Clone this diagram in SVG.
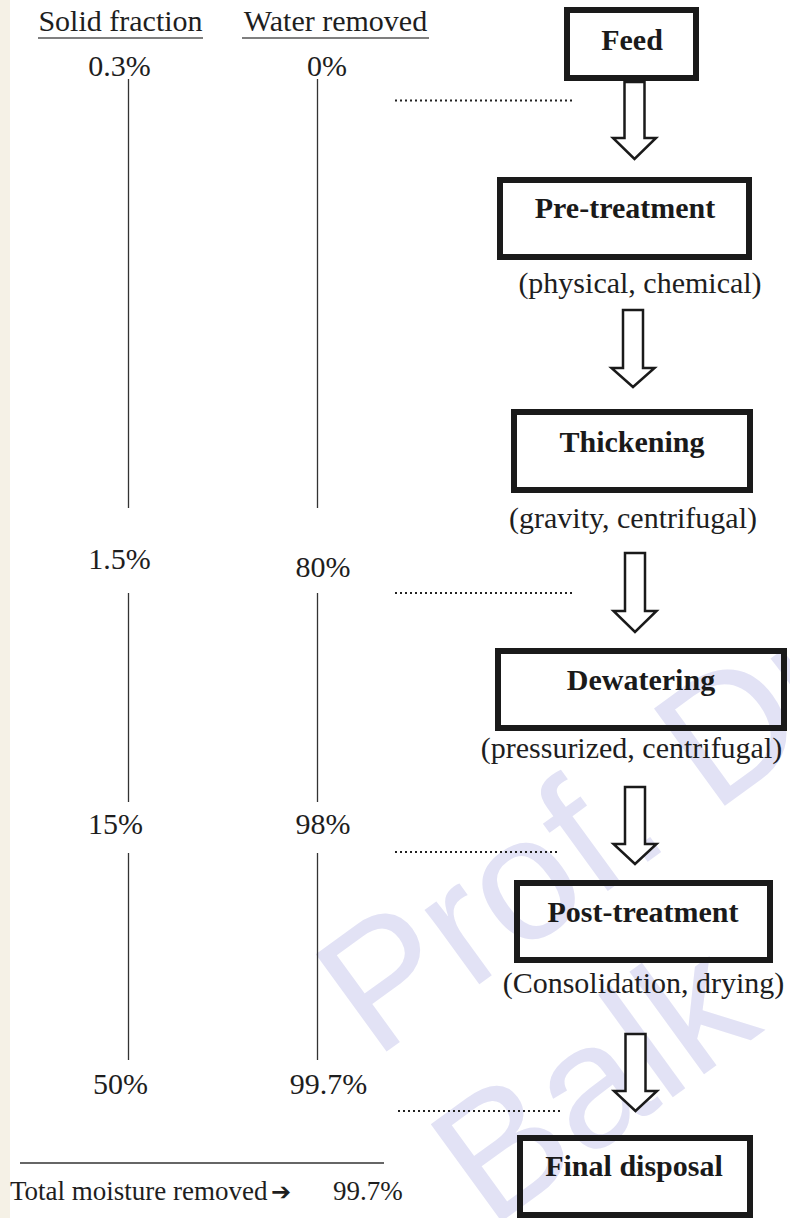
<svg xmlns="http://www.w3.org/2000/svg" width="790" height="1218" viewBox="0 0 790 1218">
<style>
.t{font-family:"Liberation Serif","Times New Roman",serif;font-size:30px;fill:#1e1e1e}
.m{text-anchor:middle}
.b{font-weight:bold;fill:#1a1a1a}
.box{fill:none;stroke:#1a1a1a;stroke-width:6}
.col{stroke:#333;stroke-width:1.3}
.dot{stroke:#222;stroke-width:2;stroke-dasharray:2 3}
.arr{fill:#fff;stroke:#1a1a1a;stroke-width:2.5;stroke-linejoin:miter}
.wm{font-family:"Liberation Sans",Arial,sans-serif;font-size:175px;fill:#e2e2f5}
</style>
<rect x="0" y="0" width="790" height="1218" fill="#fff"/>
<rect x="0" y="0" width="10" height="1218" fill="#f5f1e6"/>
<g id="watermark">
<text class="wm" transform="translate(375,1060) rotate(-36)">Prof. Dr.</text>
<text class="wm" transform="translate(490,1230) rotate(-36)">Balk</text>
</g>
<g id="scale">
<text class="t m" x="120.5" y="31">Solid fraction</text>
<line x1="38" y1="38" x2="203" y2="38" stroke="#555" stroke-width="1.5"/>
<text class="t m" x="335.5" y="31">Water removed</text>
<line x1="242" y1="38" x2="429" y2="38" stroke="#555" stroke-width="1.5"/>
<text class="t m" x="119.5" y="76">0.3%</text>
<text class="t m" x="327" y="76">0%</text>
<text class="t m" x="119.5" y="569">1.5%</text>
<text class="t m" x="323" y="577">80%</text>
<text class="t m" x="115.5" y="834">15%</text>
<text class="t m" x="323" y="834">98%</text>
<text class="t m" x="120.5" y="1094">50%</text>
<text class="t m" x="328.5" y="1094">99.7%</text>
<line class="col" x1="128.5" y1="79" x2="128.5" y2="508"/>
<line class="col" x1="317.5" y1="79" x2="317.5" y2="508"/>
<line class="col" x1="128.5" y1="593" x2="128.5" y2="802"/>
<line class="col" x1="317.5" y1="593" x2="317.5" y2="802"/>
<line class="col" x1="128.5" y1="853" x2="128.5" y2="1060"/>
<line class="col" x1="317.5" y1="853" x2="317.5" y2="1060"/>
<line x1="20" y1="1163" x2="384" y2="1163" stroke="#333" stroke-width="1.5"/>
<text class="t" x="10" y="1200" style="font-size:27px">Total moisture removed<tspan x="271" style="font-family:'DejaVu Sans',sans-serif;font-size:24px;font-weight:bold">➔</tspan><tspan x="333">99.7%</tspan></text>
</g>
<g id="connectors">
<line class="dot" x1="395" y1="100.5" x2="573" y2="100.5"/>
<line class="dot" x1="395" y1="593" x2="573" y2="593"/>
<line class="dot" x1="395" y1="852" x2="560" y2="852"/>
<line class="dot" x1="398" y1="1111" x2="562" y2="1111"/>
<polygon class="arr" points="624.5,82 644.5,82 644.5,138 656,138 634.5,159 613,138 624.5,138"/>
<polygon class="arr" points="623,310 643,310 643,368 654.5,368 633,387 611.5,368 623,368"/>
<polygon class="arr" points="625,553 645,553 645,611 656.5,611 635,632 613.5,611 625,611"/>
<polygon class="arr" points="625,787 645,787 645,844 656.5,844 635,864 613.5,844 625,844"/>
<polygon class="arr" points="625.5,1034 645.5,1034 645.5,1091 657,1091 635.5,1111 614,1091 625.5,1091"/>
</g>
<g id="feed">
<rect class="box" x="567" y="10" width="129" height="68"/>
<text class="t m b" x="632" y="50">Feed</text>
</g>
<g id="pretreatment">
<rect class="box" x="500" y="180" width="249" height="77"/>
<text class="t m b" x="625" y="218">Pre-treatment</text>
<text class="t m" x="640" y="293">(physical, chemical)</text>
</g>
<g id="thickening">
<rect class="box" x="514" y="412" width="236" height="78"/>
<text class="t m b" x="632" y="452">Thickening</text>
<text class="t m" x="633" y="528">(gravity, centrifugal)</text>
</g>
<g id="dewatering">
<rect class="box" x="498" y="651" width="286" height="77"/>
<text class="t m b" x="641" y="690">Dewatering</text>
<text class="t m" x="631.5" y="758">(pressurized, centrifugal)</text>
</g>
<g id="posttreatment">
<rect class="box" x="517" y="883" width="253" height="77"/>
<text class="t m b" x="643" y="922">Post-treatment</text>
<text class="t m" x="643.5" y="993">(Consolidation, drying)</text>
</g>
<g id="finaldisposal">
<rect class="box" x="520" y="1138" width="230" height="77"/>
<text class="t m b" x="634" y="1176">Final disposal</text>
</g>
</svg>
